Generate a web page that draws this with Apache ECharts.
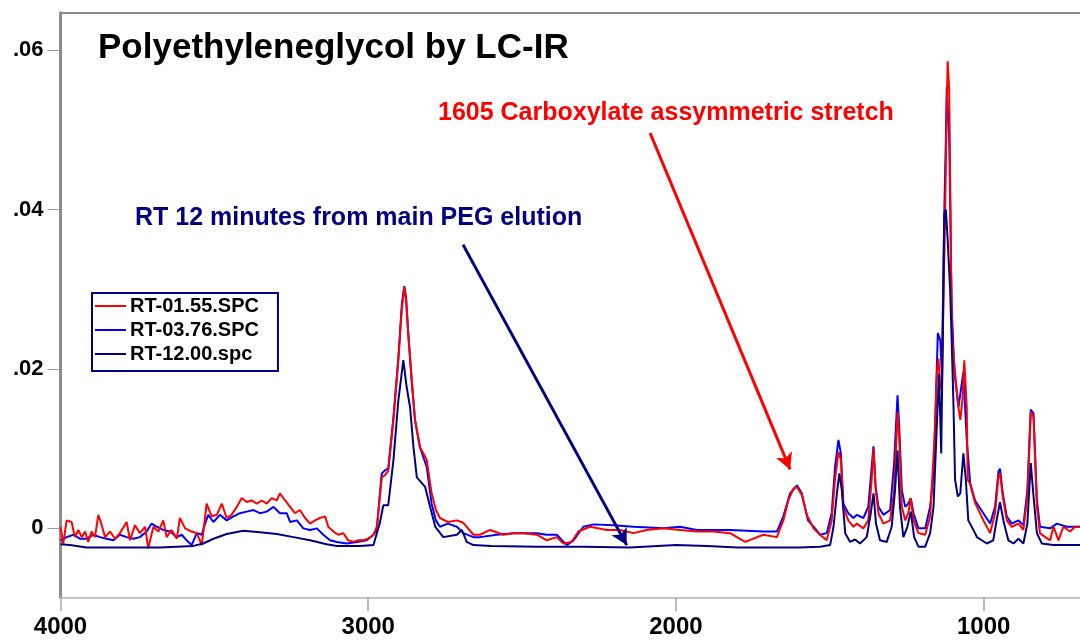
<!DOCTYPE html>
<html>
  <head>
    <meta charset="utf-8">
    <title>Polyethyleneglycol by LC-IR</title>
    <style>
      html, body{ margin:0; padding:0; background:#fff; }
      #wrap{ width:1080px; height:640px; }
    </style>
    <script src="https://cdn.jsdelivr.net/npm/echarts@6/dist/echarts.min.js"></script>
  </head>
  <body>
    <div id="wrap"></div>
    <script>
    // spectra: [wavenumber cm-1, absorbance]
    var rt0155 = [
      [4000,0.0002],[3991,-0.0019],[3980,0.0010],[3964,0.0008],[3953,-0.0011],[3942,-0.0002],[3931,-0.0011],[3920,-0.0004],
      [3910,-0.0017],[3899,-0.0004],[3888,-0.0011],[3877,0.0017],[3872,0.0019],[3866,0.0004],[3855,-0.0011],[3839,-0.0004],
      [3823,-0.0013],[3807,-0.0006],[3785,0.0008],[3774,-0.0015],[3758,0.0004],[3742,-0.0006],[3725,0.0002],[3715,-0.0025],
      [3698,0.0002],[3682,-0.0004],[3666,0.0010],[3655,-0.0011],[3639,-0.0002],[3622,-0.0013],[3612,0.0013],[3595,0.0000],
      [3574,-0.0004],[3557,-0.0006],[3541,-0.0021],[3525,0.0031],[3509,0.0015],[3492,0.0017],[3476,0.0031],[3460,0.0013],
      [3444,0.0017],[3427,0.0027],[3411,0.0038],[3395,0.0033],[3379,0.0035],[3362,0.0031],[3346,0.0035],[3330,0.0031],
      [3314,0.0038],[3297,0.0035],[3287,0.0044],[3270,0.0035],[3254,0.0027],[3238,0.0019],[3222,0.0023],[3205,0.0013],
      [3189,0.0006],[3173,0.0010],[3157,0.0013],[3140,0.0015],[3130,0.0002],[3113,-0.0004],[3097,-0.0008],[3081,-0.0006],
      [3065,-0.0015],[3048,-0.0017],[3032,-0.0015],[3016,-0.0015],[3000,-0.0013],[2983,-0.0008],[2972,0.0002],[2956,0.0064],
      [2945,0.0067],[2935,0.0072],[2918,0.0136],[2902,0.0211],[2891,0.0274],[2883,0.0303],[2877,0.0286],[2870,0.0245],
      [2859,0.0190],[2848,0.0136],[2832,0.0102],[2810,0.0086],[2794,0.0044],[2780,0.0023],[2767,0.0013],[2741,0.0008],
      [2712,0.0010],[2691,0.0007],[2658,-0.0008],[2637,-0.0008],[2604,-0.0002],[2561,-0.0008],[2528,-0.0006],[2496,-0.0006],
      [2452,-0.0008],[2420,-0.0015],[2387,-0.0011],[2366,-0.0019],[2339,-0.0017],[2317,-0.0004],[2279,0.0002],[2225,-0.0002],
      [2182,-0.0002],[2138,-0.0006],[2095,-0.0002],[2041,0.0000],[1987,-0.0002],[1932,-0.0004],[1878,-0.0004],[1824,-0.0006],
      [1775,-0.0017],[1716,-0.0008],[1672,-0.0011],[1651,0.0010],[1635,0.0035],[1618,0.0050],[1607,0.0052],[1591,0.0042],
      [1575,0.0017],[1553,0.0000],[1532,-0.0008],[1510,-0.0015],[1494,0.0010],[1483,0.0061],[1472,0.0096],[1464,0.0086],
      [1456,0.0027],[1440,0.0010],[1423,0.0002],[1412,0.0006],[1391,0.0000],[1375,0.0010],[1364,0.0061],[1358,0.0100],
      [1351,0.0048],[1342,0.0019],[1326,0.0006],[1304,0.0010],[1291,0.0048],[1280,0.0146],[1274,0.0111],[1266,0.0027],
      [1255,0.0010],[1245,0.0019],[1237,0.0038],[1228,0.0010],[1212,-0.0006],[1190,-0.0008],[1174,0.0015],[1160,0.0111],
      [1152,0.0195],[1147,0.0213],[1141,0.0178],[1136,0.0173],[1131,0.0278],[1125,0.0403],[1121,0.0508],[1117,0.0586],
      [1112,0.0550],[1109,0.0445],[1106,0.0320],[1102,0.0236],[1093,0.0195],[1082,0.0152],[1076,0.0136],[1069,0.0161],
      [1063,0.0211],[1055,0.0152],[1052,0.0061],[1044,0.0056],[1039,0.0048],[1028,0.0032],[1022,0.0031],[1001,0.0010],
      [979,-0.0006],[963,0.0019],[952,0.0065],[947,0.0069],[938,0.0040],[925,0.0010],[909,0.0002],[887,0.0006],
      [871,-0.0002],[858,0.0040],[847,0.0146],[838,0.0140],[827,0.0027],[817,-0.0006],[800,-0.0011],[784,-0.0015],
      [773,0.0002],[757,-0.0015],[741,0.0002],[719,-0.0004],[703,0.0002],[687,0.0002]
    ];

    var rt0376 = [
      [4000,-0.0015],[3980,-0.0011],[3958,-0.0008],[3937,-0.0013],[3915,-0.0013],[3893,-0.0008],[3872,-0.0011],[3850,-0.0013],
      [3828,-0.0015],[3807,-0.0008],[3785,-0.0011],[3763,-0.0013],[3742,-0.0011],[3720,-0.0004],[3704,0.0006],[3687,0.0002],
      [3666,-0.0002],[3644,-0.0004],[3622,-0.0011],[3606,-0.0008],[3590,-0.0015],[3574,-0.0021],[3557,-0.0006],[3541,-0.0008],
      [3530,0.0006],[3520,0.0017],[3503,0.0008],[3482,0.0017],[3460,0.0010],[3438,0.0015],[3417,0.0019],[3395,0.0021],
      [3373,0.0023],[3352,0.0019],[3330,0.0021],[3308,0.0027],[3287,0.0019],[3265,0.0019],[3254,0.0008],[3232,0.0010],
      [3211,0.0000],[3189,-0.0002],[3167,0.0000],[3146,-0.0008],[3124,-0.0015],[3102,-0.0017],[3070,-0.0019],[3037,-0.0017],
      [3005,-0.0015],[2983,-0.0008],[2972,-0.0002],[2962,0.0044],[2956,0.0069],[2945,0.0073],[2935,0.0075],[2918,0.0140],
      [2902,0.0215],[2891,0.0280],[2883,0.0304],[2877,0.0290],[2870,0.0245],[2859,0.0185],[2848,0.0136],[2832,0.0102],
      [2810,0.0077],[2794,0.0031],[2780,0.0010],[2767,0.0002],[2741,0.0006],[2712,0.0002],[2691,-0.0006],[2658,-0.0011],
      [2637,-0.0011],[2582,-0.0008],[2528,-0.0006],[2496,-0.0006],[2452,-0.0006],[2420,-0.0008],[2387,-0.0008],[2355,-0.0021],
      [2333,-0.0015],[2301,0.0002],[2268,0.0005],[2203,0.0004],[2138,0.0002],[2041,0.0000],[1987,0.0002],[1932,-0.0002],
      [1824,-0.0002],[1716,-0.0004],[1672,-0.0004],[1651,0.0015],[1629,0.0044],[1607,0.0054],[1591,0.0044],[1571,0.0010],
      [1548,0.0000],[1532,-0.0008],[1510,-0.0006],[1494,0.0019],[1483,0.0077],[1472,0.0111],[1464,0.0094],[1456,0.0031],
      [1440,0.0019],[1423,0.0013],[1412,0.0017],[1391,0.0013],[1375,0.0027],[1364,0.0077],[1358,0.0103],[1351,0.0052],
      [1342,0.0027],[1326,0.0017],[1304,0.0023],[1291,0.0082],[1280,0.0167],[1274,0.0123],[1266,0.0048],[1255,0.0027],
      [1245,0.0031],[1237,0.0038],[1228,0.0019],[1212,0.0000],[1190,0.0000],[1174,0.0027],[1163,0.0069],[1156,0.0152],
      [1149,0.0245],[1141,0.0236],[1136,0.0194],[1131,0.0320],[1128,0.0396],[1123,0.0487],[1120,0.0554],[1112,0.0487],
      [1107,0.0362],[1104,0.0278],[1095,0.0195],[1082,0.0152],[1076,0.0152],[1066,0.0196],[1055,0.0111],[1044,0.0057],
      [1028,0.0035],[1022,0.0035],[1001,0.0019],[979,0.0006],[963,0.0027],[952,0.0071],[947,0.0075],[938,0.0044],
      [925,0.0015],[909,0.0006],[887,0.0010],[871,0.0004],[858,0.0048],[847,0.0149],[838,0.0144],[827,0.0035],
      [817,0.0002],[784,0.0000],[762,0.0006],[730,0.0002],[687,0.0002]
    ];

    var rt1200 = [
      [4000,-0.0020],[3969,-0.0021],[3915,-0.0024],[3785,-0.0024],[3677,-0.0024],[3568,-0.0022],[3536,-0.0019],[3503,-0.0013],
      [3460,-0.0007],[3406,-0.0003],[3352,-0.0005],[3297,-0.0007],[3243,-0.0011],[3189,-0.0015],[3135,-0.0020],[3102,-0.0022],
      [3027,-0.0022],[2983,-0.0021],[2962,0.0007],[2951,0.0029],[2935,0.0029],[2918,0.0086],[2902,0.0161],[2886,0.0211],
      [2875,0.0177],[2864,0.0152],[2853,0.0102],[2842,0.0064],[2815,0.0052],[2799,0.0027],[2782,0.0002],[2756,-0.0011],
      [2712,-0.0008],[2696,-0.0002],[2680,-0.0017],[2658,-0.0021],[2600,-0.0022],[2450,-0.0023],[2300,-0.0023],[2150,-0.0024],
      [2000,-0.0021],[1900,-0.0022],[1800,-0.0024],[1700,-0.0024],[1600,-0.0024],[1532,-0.0023],[1499,-0.0021],[1488,0.0002],
      [1477,0.0044],[1469,0.0069],[1461,0.0048],[1450,-0.0006],[1434,-0.0017],[1418,-0.0014],[1402,-0.0019],[1380,-0.0011],
      [1367,0.0019],[1358,0.0044],[1350,0.0006],[1337,-0.0015],[1315,-0.0017],[1299,0.0002],[1288,0.0048],[1280,0.0098],
      [1272,0.0027],[1261,-0.0011],[1248,0.0002],[1237,0.0021],[1226,-0.0011],[1212,-0.0023],[1190,-0.0023],[1174,-0.0006],
      [1163,0.0027],[1152,0.0132],[1145,0.0194],[1138,0.0094],[1133,0.0236],[1128,0.0395],[1123,0.0400],[1117,0.0362],
      [1109,0.0299],[1104,0.0236],[1098,0.0152],[1093,0.0061],[1084,0.0040],[1076,0.0044],[1066,0.0094],[1058,0.0061],
      [1050,0.0010],[1028,-0.0006],[1022,-0.0011],[990,-0.0019],[969,-0.0015],[958,0.0010],[947,0.0033],[936,0.0010],
      [920,-0.0015],[903,-0.0019],[887,-0.0013],[871,-0.0019],[858,0.0006],[847,0.0082],[838,0.0040],[827,-0.0006],
      [811,-0.0019],[773,-0.0021],[687,-0.0021]
    ];

    var seriesNames = ['RT-01.55.SPC', 'RT-03.76.SPC', 'RT-12.00.spc'];
    var xTicks = [4000, 3000, 2000, 1000];
    var yTicks = [0, 0.02, 0.04, 0.06];

    // arrows, start and end in [wavenumber, absorbance]
    var carboxylateArrow = [[2084, 0.0496], [1629, 0.0074]];
    var pegArrow = [[2692, 0.0356], [2160, -0.0021]];

    var FONT = '"Liberation Sans", Arial, sans-serif';

    var chart = echarts.init(document.getElementById('wrap'));

    function arrow(pts, color){
      return {
        silent: true,
        animation: false,
        symbol: ['none', 'arrow'],
        symbolSize: [13, 16],
        label: {show: false},
        lineStyle: {color: color, width: 3, type: 'solid'},
        data: [[{coord: pts[0]}, {coord: pts[1]}]]
      };
    }

    var option = {
      animation: false,
      backgroundColor: '#fff',
      grid: {left: 60.5, right: 0, top: 12.7, bottom: 42.7},
      legend: {
        orient: 'vertical',
        left: 92, top: 293,
        data: seriesNames,
        icon: 'rect',
        itemWidth: 31, itemHeight: 2,
        itemGap: 4,
        padding: [3, 19, 7, 3],
        borderColor: '#000080', borderWidth: 2,
        backgroundColor: '#fff',
        textStyle: {fontFamily: FONT, fontSize: 20, fontWeight: 'bold', color: '#000', padding: [0, 0, 0, -1]}
      },
      xAxis: [{
        type: 'value', inverse: true, min: 687, max: 4000,
        axisLine: {show: true, onZero: false, lineStyle: {color: '#c4c4c4', width: 2}},
        axisTick: {show: true, customValues: xTicks, length: 14, lineStyle: {color: '#a8a8a8', width: 1.5}},
        axisLabel: {
          customValues: xTicks, margin: 18, fontFamily: FONT, fontSize: 24, fontWeight: 'bold', color: '#000',
          formatter: function (v){ return String(v); }
        },
        splitLine: {show: false}
      }, {
        type: 'value', inverse: true, min: 687, max: 4000, position: 'top',
        axisLine: {show: true, onZero: false, lineStyle: {color: '#8c8c8c', width: 2}},
        axisTick: {show: false}, axisLabel: {show: false}, splitLine: {show: false}
      }],
      yAxis: {
        type: 'value', min: -0.00865, max: 0.0647,
        axisLine: {show: true, onZero: false, lineStyle: {color: '#8c8c8c', width: 3}},
        axisTick: {show: true, customValues: yTicks, length: 13, lineStyle: {color: '#9a9a9a', width: 1}},
        axisLabel: {
          customValues: yTicks, margin: 17,
          fontFamily: FONT, fontSize: 22, fontWeight: 'bold', color: '#000',
          formatter: function (v){
            if (Math.abs(v) < 1e-9) return '0';
            return '.' + v.toFixed(2).split('.')[1];
          }
        },
        splitLine: {show: false}
      },
      series: [{
        name: seriesNames[1], type: 'line', data: rt0376,
        showSymbol: false, symbol: 'none', color: '#0000ff',
        lineStyle: {width: 2, color: '#0000ff'}, z: 2
      }, {
        name: seriesNames[0], type: 'line', data: rt0155,
        showSymbol: false, symbol: 'none', color: '#ff0000',
        lineStyle: {width: 2, color: '#ff0000'}, z: 3,
        markLine: arrow(carboxylateArrow, '#ff0000')
      }, {
        name: seriesNames[2], type: 'line', data: rt1200,
        showSymbol: false, symbol: 'none', color: '#000080',
        lineStyle: {width: 2, color: '#000080'}, z: 4,
        markLine: arrow(pegArrow, '#000080')
      }],
      graphic: [{
        type: 'text', left: 98, top: 31,
        style: {text: 'Polyethyleneglycol by LC-IR', font: 'bold 35px ' + FONT, fill: '#000'}
      }, {
        type: 'text', left: 438, top: 101,
        style: {text: '1605 Carboxylate assymmetric stretch', font: 'bold 25px ' + FONT, fill: '#ff0000'}
      }, {
        type: 'text', left: 135, top: 206,
        style: {text: 'RT 12 minutes from main PEG elution', font: 'bold 25px ' + FONT, fill: '#000080'}
      }]
    };

    chart.setOption(option);
    </script>
  </body>
</html>
